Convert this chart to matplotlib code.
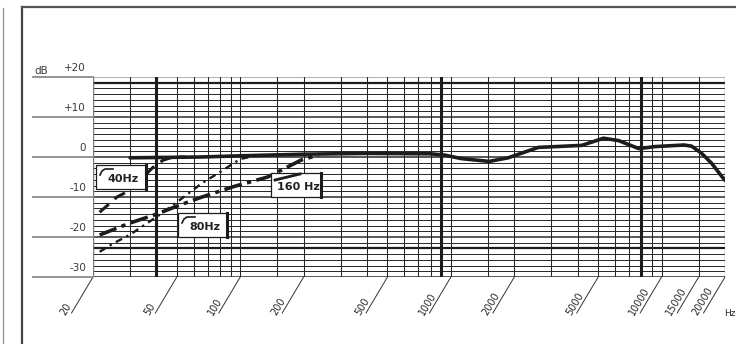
import matplotlib
matplotlib.use("Agg")
import matplotlib.pyplot as plt
import matplotlib.transforms as mtrans
from matplotlib.patches import Rectangle
from matplotlib.lines import Line2D
import numpy as np

# frequency grid of the chart paper
grid_freqs = [20, 30, 40, 50, 60, 70, 80, 90, 100, 150, 200, 300, 400, 500, 600, 700,
              800, 900, 1000, 1500, 2000, 3000, 4000, 5000, 6000, 7000, 8000, 9000,
              10000, 15000, 20000]
thick_freqs = [40, 900, 8000]
tick_freqs = [20, 50, 100, 200, 500, 1000, 2000, 5000, 10000, 15000, 20000]
tick_labels = ["20", "50", "100", "200", "500", "1000", "2000", "5000", "10000", "15000", "20000"]
db_levels = [20, 10, 0, -10, -20, -30]
db_labels = ["+20", "+10", "0", "-10", "-20", "-30"]

# main response (solid)
main_f = [30, 65, 100, 200, 400, 800, 930, 1120, 1520, 1870, 2600, 4170, 4650, 5300,
          6250, 7800, 9300, 12800, 13900, 15500, 17300, 19400, 20000]
main_db = [-0.2, 0.0, 0.3, 0.7, 0.9, 0.8, 0.5, -0.4, -1.1, -0.2, 2.4, 2.9, 3.7, 4.7,
           4.1, 2.1, 2.6, 3.0, 2.7, 0.9, -1.6, -5.0, -5.8]

# bass cut curves
cut40_f = [21.5, 26, 30, 38.5, 43, 48, 55]
cut40_db = [-13.8, -10.0, -8.3, -2.6, -0.8, 0.0, 0.0]
cut80_f = [21.5, 25, 30, 40, 50, 66, 80, 100, 118]
cut80_db = [-23.7, -21.6, -19.4, -15.0, -11.3, -6.5, -3.8, -0.5, 0.3]
cut160_f = [21.5, 30, 40, 50, 65, 93, 135, 194, 235]
cut160_db = [-19.5, -16.5, -14.3, -12.3, -10.1, -7.4, -5.0, -0.8, 0.5]

W, H = 736, 344
fig = plt.figure(figsize=(W / 100, H / 100), dpi=100)
fig.patch.set_facecolor("white")


def fx(px):
    return px / W


def fy(py):
    return 1 - py / H


ax = fig.add_axes([fx(93), fy(277), fx(725) - fx(93), fy(77) - fy(277)])
ax.set_xscale("log")
ax.set_xlim(20, 20000)
ax.set_ylim(-30, 20)
ax.axis("off")

ink = "#1c1c1c"

# horizontal grid lines (7 per 10 dB)
for i, lv in enumerate(np.linspace(20, -30, 36)):
    if i == 0:
        ax.axhline(lv, color="#9a9a9a", lw=1.1, zorder=1)
    elif i in (1, 30):
        ax.axhline(lv, color=ink, lw=1.6, zorder=1)
    elif i % 7 == 0:
        ax.axhline(lv, color="#2a2a2a", lw=1.1, zorder=1)
    else:
        ax.axhline(lv, color="#262626", lw=0.7, zorder=1)

# vertical grid lines
for f in grid_freqs:
    if f in thick_freqs:
        ax.axvline(f, color=ink, lw=2.2, zorder=1)
    elif f in (20, 20000):
        ax.axvline(f, color="#7a7a7a", lw=1.0, zorder=1)
    else:
        ax.axvline(f, color="#262626", lw=0.75, zorder=1)

# response curves
ax.plot(cut80_f, cut80_db, color=ink, lw=1.7, ls=(0, (3, 2, 1, 2)), zorder=3)
ax.plot(cut160_f, cut160_db, color=ink, lw=2.6, ls=(0, (5, 1.5, 1.2, 1.5)), zorder=3)
ax.plot(cut40_f, cut40_db, color=ink, lw=2.2, ls=(0, (4, 2.5)), zorder=3)
ax.plot(main_f, main_db, color=ink, lw=2.6, solid_capstyle="round", zorder=4)

# dB scale at left: gray lines + labels
tr = mtrans.blended_transform_factory(fig.transFigure, ax.transData)
for lv, lab in zip(db_levels, db_labels):
    fig.add_artist(Line2D([fx(33), fx(93)], [lv, lv], transform=tr, color="#8c8c8c", lw=1.3))
    fig.text(fx(86), lv + 2.3, lab, transform=tr, ha="right", va="center",
             fontsize=7.5, color="#3a3a3a", family="DejaVu Sans")
fig.text(fx(34), 21.5, "dB", transform=tr, ha="left", va="center",
         fontsize=7.5, color="#3a3a3a", family="DejaVu Sans")

# frequency labels on slanted leaders
for f, lab in zip(tick_freqs, tick_labels):
    ax.annotate("", xy=(f, -30), xycoords="data", xytext=(-15.5, -26),
                textcoords="offset points", annotation_clip=False,
                arrowprops=dict(arrowstyle="-", lw=0.7, color="#333333",
                                shrinkA=0, shrinkB=0))
    ax.annotate(lab, xy=(f, -30), xycoords="data", xytext=(-18.5, -28.5),
                textcoords="offset points", rotation=59, rotation_mode="anchor",
                ha="left", va="bottom", fontsize=7, color="#2a2a2a",
                annotation_clip=False, family="DejaVu Sans")
fig.text(fx(735.5), fy(314), "Hz", ha="right", va="center", fontsize=6.5, color="#2a2a2a")

# label boxes
def box(x0, y0, x1, y1, text, heavy_right=False):
    r = Rectangle((fx(x0), fy(y1)), fx(x1) - fx(x0), fy(y0) - fy(y1),
                  transform=fig.transFigure, facecolor="white", edgecolor=ink,
                  lw=0.9, zorder=6)
    fig.add_artist(r)
    if heavy_right:
        fig.add_artist(Line2D([fx(x1), fx(x1)], [fy(y0), fy(y1)], color=ink, lw=2.2, zorder=7))
    fig.text(fx((x0 + x1) / 2 + 2), fy((y0 + y1) / 2 + 2), text, ha="center", va="center",
             fontsize=8, fontweight="bold", color="#222222", zorder=8)


box(96, 165, 146, 189, "40Hz", heavy_right=True)
box(178, 213, 227, 237, "80Hz", heavy_right=True)
box(271, 173, 321, 197, "160 Hz", heavy_right=True)

# small corner marks inside boxes
for (x0, y0) in [(100, 175), (182, 223)]:
    fig.add_artist(Line2D([fx(x0), fx(x0 + 2), fx(x0 + 5), fx(x0 + 13)],
                          [fy(y0), fy(y0 - 4), fy(y0 - 6), fy(y0 - 6)],
                          color=ink, lw=1.2, zorder=9))
fig.add_artist(Line2D([fx(275), fx(300)], [fy(180), fy(174)], color=ink, lw=2.0, zorder=9))

# frame of the scanned sheet
fig.add_artist(Line2D([fx(22), fx(22)], [fy(7), fy(344)], color="#444444", lw=1.6))
fig.add_artist(Line2D([fx(22), fx(736)], [fy(7), fy(7)], color="#555555", lw=1.6))
fig.add_artist(Line2D([fx(3), fx(3)], [fy(8), fy(344)], color="#9a9a9a", lw=1.0))

fig.savefig("out.png", dpi=100, facecolor="white")
